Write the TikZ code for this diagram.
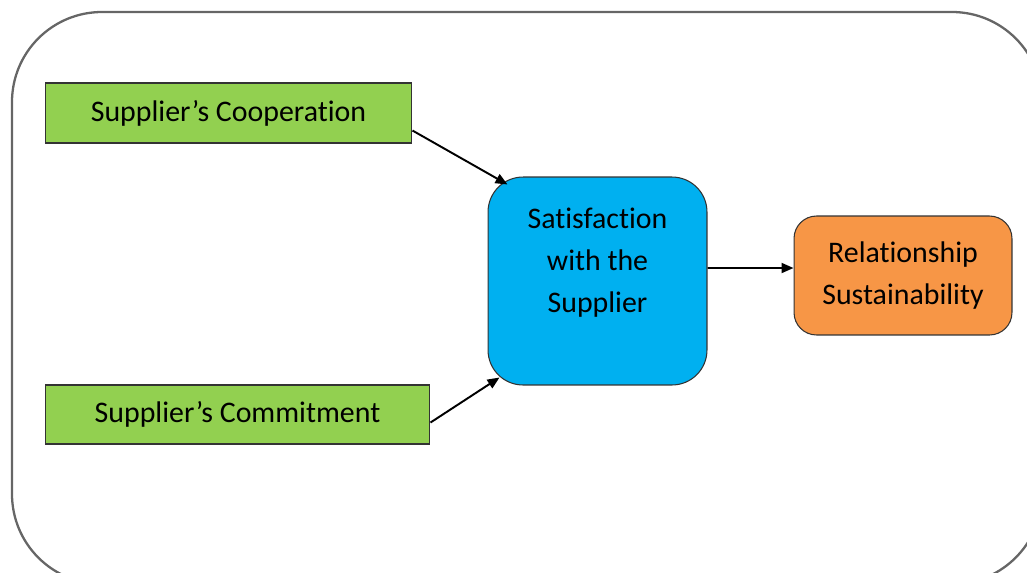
\documentclass[tikz,border=0pt]{standalone}
\usepackage{fontspec}
\setmainfont[Ligatures={NoCommon}]{Carlito}
\usetikzlibrary{arrows.meta}

\definecolor{factorgreen}{RGB}{146,208,80}
\definecolor{mediatorblue}{RGB}{0,176,240}
\definecolor{outcomeorange}{RGB}{247,150,70}

\begin{document}
\begin{tikzpicture}[
    x=0.02cm, y=-0.02cm,
    factor/.style={
        rectangle,
        draw=black!80,
        line width=0.6pt,
        fill=factorgreen,
        minimum height=1.2cm,
        align=center,
        font=\fontsize{17}{24}\selectfont
    },
    mediator/.style={
        rectangle,
        rounded corners=0.7cm,
        draw=black!80,
        line width=0.6pt,
        fill=mediatorblue,
        minimum width=4.38cm,
        minimum height=4.16cm,
        align=center,
        font=\fontsize{17}{24}\selectfont
    },
    outcome/.style={
        rectangle,
        rounded corners=0.45cm,
        draw=black!80,
        line width=0.6pt,
        fill=outcomeorange,
        minimum width=4.36cm,
        minimum height=2.38cm,
        align=center,
        font=\fontsize{17}{24}\selectfont
    },
    arrow/.style={
        line width=1.1pt,
        -{Triangle[length=2.4mm,width=2mm]},
        black
    }
]

% Frame
\clip (0,0) rectangle (1027,572);
\draw[black!60, line width=1.3pt, rounded corners=1.8cm] (12,12) rectangle (1042,584);

% Antecedents
\node[factor, minimum width=7.34cm] (coop) at (228.5,113) {Supplier’s Cooperation};
\node[factor, minimum width=7.7cm, minimum height=1.18cm] (commit) at (237.5,414.5) {Supplier’s Commitment};

% Mediator (empty last line keeps the text near the top)
\node[mediator] (sat) at (597.5,281) {Satisfaction\\with the\\Supplier\\ \mbox{}};

% Outcome
\node[outcome] (sust) at (903,275.5) {Relationship\\Sustainability};

% Arrows
\draw[arrow] ([yshift=0.26cm]coop.south east) -- ([shift={(0.4cm,-0.16cm)}]sat.north west);
\draw[arrow] ([yshift=0.44cm]commit.south east) -- ([shift={(0.24cm,0.16cm)}]sat.south west);
\draw[arrow] ([yshift=0.26cm]sat.east) -- ([yshift=0.15cm]sust.west);

\end{tikzpicture}
\end{document}
